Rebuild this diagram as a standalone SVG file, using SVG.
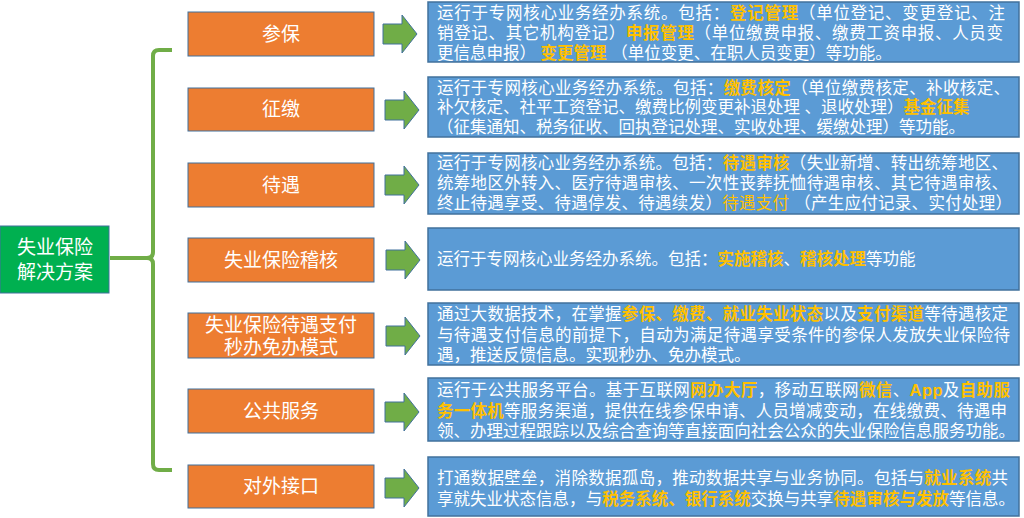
<svg xmlns="http://www.w3.org/2000/svg" xmlns:xlink="http://www.w3.org/1999/xlink" width="1024" height="518" viewBox="0 0 1024 518">
<style>
.root{fill:#00B050;stroke:#41719C;stroke-width:1}
.org{fill:#ED7D31;stroke:#41719C;stroke-width:1}
.blue{fill:#5B9BD5;stroke:#41719C;stroke-width:1.5}
.lbl{font-family:"Liberation Sans","Noto Sans CJK SC",sans-serif;font-size:19px;fill:#FFFFFF;text-anchor:middle}
.t{font-family:"Liberation Sans","Noto Sans CJK SC",sans-serif;font-size:16.5px;fill:#FFFFFF}
.h{fill:#FFC000;font-weight:bold}
.hn{fill:#FFC000}
.brace{fill:none;stroke:#70AD47;stroke-width:4;stroke-linejoin:round}
.arr{fill:#70AD47;stroke:#41719C;stroke-width:1}
</style>
<defs>
<path id="arrow" class="arr" d="M0,-10 H19 V-19 L34,0 L19,19 V10 H0 Z"/>
</defs>
<rect width="1024" height="518" fill="#FFFFFF"/>

<g id="connectors">
<path class="brace" d="M110,258 H147 Q153,258 153,252 V56 Q153,50 159,50 H172"/>
<path class="brace" d="M147,258 Q153,258 153,264 V464 Q153,470 159,470 H172"/>
<use xlink:href="#arrow" x="383" y="34"/>
<use xlink:href="#arrow" x="385" y="110"/>
<use xlink:href="#arrow" x="385" y="185"/>
<use xlink:href="#arrow" x="386" y="260"/>
<use xlink:href="#arrow" x="386" y="336"/>
<use xlink:href="#arrow" x="385" y="412"/>
<use xlink:href="#arrow" x="385" y="488"/>
</g>

<g id="root">
<rect class="root" x="0" y="226" width="109" height="67"/>
<text class="lbl" x="55" y="254">失业保险</text>
<text class="lbl" x="55" y="279">解决方案</text>
</g>

<g id="n1">
<rect class="org" x="188" y="12" width="186" height="44"/>
<text class="lbl" x="281" y="41">参保</text>
</g>
<g id="n2">
<rect class="org" x="188" y="88" width="186" height="43"/>
<text class="lbl" x="281" y="116">征缴</text>
</g>
<g id="n3">
<rect class="org" x="188" y="163" width="186" height="44"/>
<text class="lbl" x="281" y="192">待遇</text>
</g>
<g id="n4">
<rect class="org" x="188" y="238" width="186" height="44"/>
<text class="lbl" x="281" y="267">失业保险稽核</text>
</g>
<g id="n5">
<rect class="org" x="188" y="313" width="186" height="45"/>
<text class="lbl" x="281" y="332">失业保险待遇支付</text>
<text class="lbl" x="281" y="354">秒办免办模式</text>
</g>
<g id="n6">
<rect class="org" x="188" y="389" width="186" height="44"/>
<text class="lbl" x="281" y="418">公共服务</text>
</g>
<g id="n7">
<rect class="org" x="188" y="465" width="186" height="43"/>
<text class="lbl" x="281" y="493">对外接口</text>
</g>

<g id="d1">
<rect class="blue" x="428" y="2" width="591" height="60"/>
<text class="t" x="437" y="19" textLength="568" lengthAdjust="spacing">运行于专网核心业务经办系统。包括：<tspan class="h">登记管理</tspan>（单位登记、变更登记、注</text>
<text class="t" x="437" y="39" textLength="566" lengthAdjust="spacing">销登记、其它机构登记）<tspan class="h">申报管理</tspan>（单位缴费申报、缴费工资申报、人员变</text>
<text class="t" x="437" y="59">更信息申报） <tspan class="h">变更管理</tspan> （单位变更、在职人员变更）等功能。</text>
</g>

<g id="d2">
<rect class="blue" x="428" y="77" width="591" height="60"/>
<text class="t" x="437" y="94" textLength="573" lengthAdjust="spacing">运行于专网核心业务经办系统。包括：<tspan class="h">缴费核定</tspan>（单位缴费核定、补收核定、</text>
<text class="t" x="437" y="113">补欠核定、社平工资登记、缴费比例变更补退处理 、退收处理）<tspan class="h">基金征集</tspan></text>
<text class="t" x="437" y="133">（征集通知、税务征收、回执登记处理、实收处理、缓缴处理）等功能。</text>
</g>

<g id="d3">
<rect class="blue" x="428" y="153" width="591" height="61"/>
<text class="t" x="437" y="169" textLength="571" lengthAdjust="spacing">运行于专网核心业务经办系统。包括：<tspan class="h">待遇审核</tspan>（失业新增、转出统筹地区、</text>
<text class="t" x="437" y="189" textLength="571" lengthAdjust="spacing">统筹地区外转入、医疗待遇审核、一次性丧葬抚恤待遇审核、其它待遇审核、</text>
<text class="t" x="437" y="209" textLength="575" lengthAdjust="spacing">终止待遇享受、待遇停发、待遇续发）<tspan class="hn">待遇支付</tspan> （产生应付记录、实付处理）</text>
</g>

<g id="d4">
<rect class="blue" x="428" y="228" width="591" height="62"/>
<text class="t" x="437" y="265">运行于专网核心业务经办系统。包括：<tspan class="h">实施稽核</tspan>、<tspan class="h">稽核处理</tspan>等功能</text>
</g>

<g id="d5">
<rect class="blue" x="428" y="303" width="591" height="62"/>
<text class="t" x="437" y="320" textLength="571" lengthAdjust="spacing">通过大数据技术，在掌握<tspan class="h">参保、缴费、就业失业状态</tspan>以及<tspan class="h">支付渠道</tspan>等待遇核定</text>
<text class="t" x="437" y="341" textLength="573" lengthAdjust="spacing">与待遇支付信息的前提下，自动为满足待遇享受条件的参保人发放失业保险待</text>
<text class="t" x="437" y="361">遇，推送反馈信息。实现秒办、免办模式。</text>
</g>

<g id="d6">
<rect class="blue" x="428" y="378" width="591" height="63"/>
<text class="t" x="437" y="396" textLength="573" lengthAdjust="spacing">运行于公共服务平台。基于互联网<tspan class="h">网办大厅</tspan>，移动互联网<tspan class="h">微信</tspan>、<tspan class="h">App</tspan>及<tspan class="h">自助服</tspan></text>
<text class="t" x="437" y="417" textLength="570" lengthAdjust="spacing"><tspan class="h">务一体机</tspan>等服务渠道，提供在线参保申请、人员增减变动，在线缴费、待遇申</text>
<text class="t" x="437" y="437" textLength="578" lengthAdjust="spacing">领、办理过程跟踪以及综合查询等直接面向社会公众的失业保险信息服务功能。</text>
</g>

<g id="d7">
<rect class="blue" x="428" y="457" width="591" height="59"/>
<text class="t" x="437" y="484" textLength="571" lengthAdjust="spacing">打通数据壁垒，消除数据孤岛，推动数据共享与业务协同。包括与<tspan class="h">就业系统</tspan>共</text>
<text class="t" x="437" y="505" textLength="578" lengthAdjust="spacing">享就失业状态信息，与<tspan class="h">税务系统、银行系统</tspan>交换与共享<tspan class="h">待遇审核与发放</tspan>等信息。</text>
</g>
</svg>
